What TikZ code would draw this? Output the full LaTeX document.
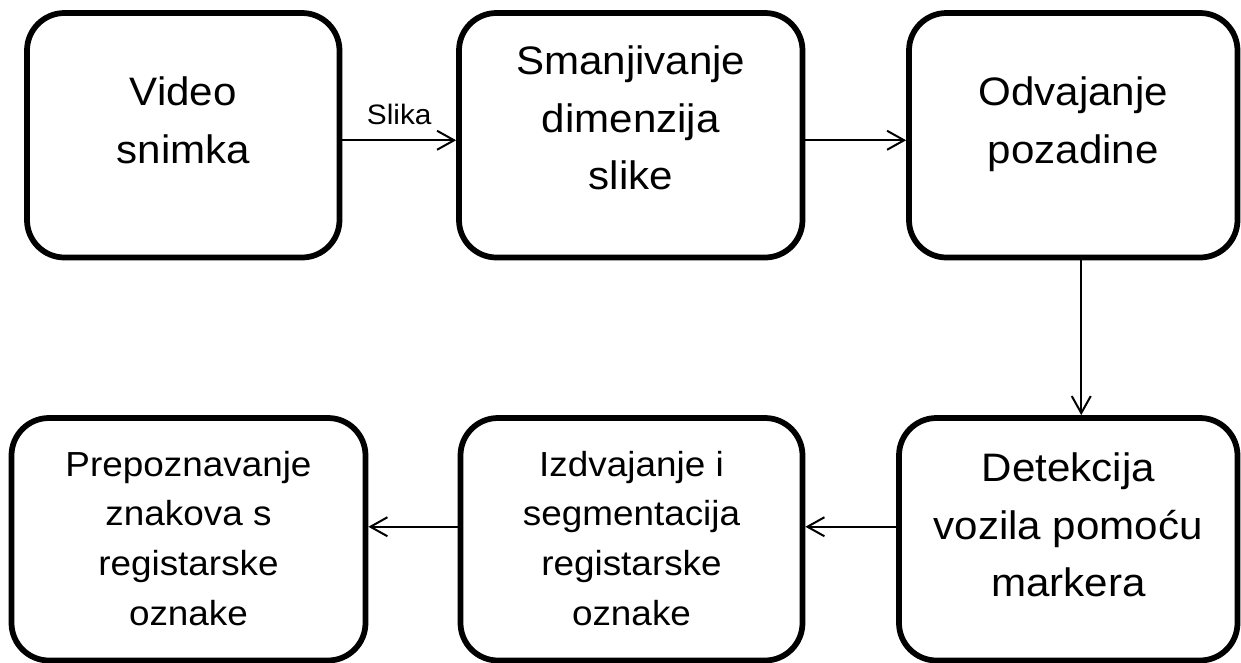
\documentclass[tikz,border=0pt]{standalone}
\usepackage{fontspec}
\setmainfont{Liberation Sans}[FakeStretch=1.06]
\usetikzlibrary{arrows.meta}

\begin{document}
\begin{tikzpicture}[
  roundbox/.style={rectangle, draw=black, line width=0.115cm, rounded corners=0.75cm},
  bigtext/.style={align=center, inner sep=0pt, font=\fontsize{22.6}{32.7}\selectfont},
  smalltext/.style={align=center, inner sep=0pt, font=\fontsize{19.8}{28.2}\selectfont},
  flow/.style={-{Straight Barb[length=0.34cm, width=0.38cm]}, line width=0.04cm},
]
\useasboundingbox (0,0) rectangle (24.82,-13.24);

% upper row
\node[roundbox, minimum width=6.25cm, minimum height=4.89cm] (video) at (3.665,-2.705) {};
\node[roundbox, minimum width=6.87cm, minimum height=4.89cm] (smanjivanje) at (12.615,-2.705) {};
\node[roundbox, minimum width=6.57cm, minimum height=4.89cm] (odvajanje) at (21.465,-2.705) {};

% lower row
\node[roundbox, minimum width=7.08cm, minimum height=4.85cm] (prepoznavanje) at (3.77,-10.785) {};
\node[roundbox, minimum width=6.84cm, minimum height=4.85cm] (izdvajanje) at (12.63,-10.785) {};
\node[roundbox, minimum width=6.77cm, minimum height=4.85cm] (detekcija) at (21.365,-10.785) {};

\node[bigtext] (videotxt) at ([yshift=0.30cm]video.center) {Video\\snimka};
\node[bigtext] (smanjivanjetxt) at ([yshift=0.34cm]smanjivanje.center) {Smanjivanje\\dimenzija\\slike};
\node[bigtext] (odvajanjetxt) at ([yshift=0.22cm]odvajanje.center) {Odvajanje\\pozadine};
\node[bigtext] (detekcijatxt) at ([yshift=0.28cm]detekcija.center) {Detekcija\\vozila pomoću\\markera};
\node[smalltext] (izdvajanjetxt) at ([yshift=0.02cm]izdvajanje.center) {Izdvajanje i\\segmentacija\\registarske\\oznake};
\node[smalltext] (prepoznavanjetxt) at ([yshift=0.02cm]prepoznavanje.center) {Prepoznavanje\\znakova s\\registarske\\oznake};

\draw[flow] ([yshift=-0.1cm]video.east) -- node[above=0.28cm, inner sep=0pt, font=\fontsize{16}{19}\selectfont] (slika) {Slika} ([yshift=-0.1cm]smanjivanje.west);
\draw[flow] ([yshift=-0.1cm]smanjivanje.east) -- ([yshift=-0.1cm]odvajanje.west);
\draw[flow] ([xshift=0.16cm]odvajanje.south) -- ([xshift=0.16cm]odvajanje.south |- detekcija.north);
\draw[flow] ([yshift=0.25cm]detekcija.west) -- ([yshift=0.25cm]detekcija.west -| izdvajanje.east);
\draw[flow] ([yshift=0.25cm]izdvajanje.west) -- ([yshift=0.25cm]izdvajanje.west -| prepoznavanje.east);

\end{tikzpicture}
\end{document}
